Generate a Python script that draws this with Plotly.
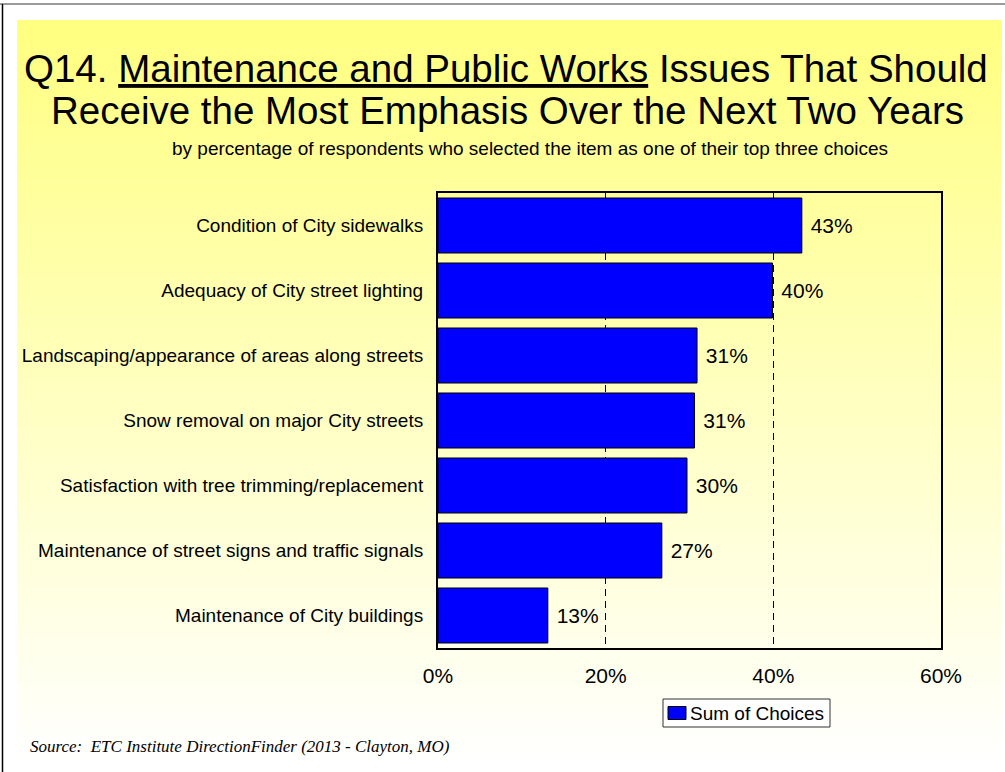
import plotly.graph_objects as go

# Survey results: share of respondents picking each item among their top three
categories = [
    "Condition of City sidewalks",
    "Adequacy of City street lighting",
    "Landscaping/appearance of areas along streets",
    "Snow removal on major City streets",
    "Satisfaction with tree trimming/replacement",
    "Maintenance of street signs and traffic signals",
    "Maintenance of City buildings",
]
sum_of_choices = [43.4, 39.9, 30.9, 30.6, 29.7, 26.7, 13.1]

tick_vals = [0, 20, 40, 60]
tick_labels = ["0%", "20%", "40%", "60%"]

series_name = "Sum of Choices"
title_line1 = ('Q14. <span style="text-decoration:underline">Maintenance and Public Works</span>'
               ' Issues That Should')
title_line2 = "Receive the Most Emphasis Over the Next Two Years"
subtitle = "by percentage of respondents who selected the item as one of their top three choices"
source_note = "Source:  ETC Institute DirectionFinder (2013 - Clayton, MO)"

# ---- page geometry (pixels) ----
W, H = 1005, 772
L, R, T, B = 438, 64, 193, 124
PW, PH = W - L - R, H - T - B

SANS = "Arial, Liberation Sans, sans-serif"
SERIF = "Times New Roman, Liberation Serif, serif"
BLUE = "#0000FF"


def px(x):
    return (x - L) / PW


def py(y):
    return (H - B - y) / PH


shapes = []

# soft yellow panel fading to white toward the bottom
top_y, bot_y = 20, 766
n_strips = 128
for i in range(n_strips):
    y0 = top_y + (bot_y - top_y) * i / n_strips
    y1 = top_y + (bot_y - top_y) * (i + 1) / n_strips + 0.6
    t = i / (n_strips - 1)
    blue = int(round(128 + 127 * t))
    shapes.append(dict(type="rect", xref="paper", yref="paper", layer="below",
                       x0=px(17), x1=px(1002), y0=py(y1), y1=py(y0),
                       fillcolor=f"rgb(255,255,{blue})", line=dict(width=0)))

# frame lines along the top and left edge of the page
shapes.append(dict(type="line", xref="paper", yref="paper", x0=px(0), x1=px(W),
                   y0=py(4), y1=py(4), line=dict(color="#7a7a7a", width=1.5)))
shapes.append(dict(type="line", xref="paper", yref="paper", x0=px(2.5), x1=px(2.5),
                   y0=py(4), y1=py(H), line=dict(color="#000000", width=1.5)))

# legend box with swatch
shapes.append(dict(type="rect", xref="paper", yref="paper", x0=px(663), x1=px(830),
                   y0=py(727), y1=py(699), fillcolor="white",
                   line=dict(color="#333333", width=1)))
shapes.append(dict(type="rect", xref="paper", yref="paper", x0=px(668), x1=px(686),
                   y0=py(719.5), y1=py(706.5), fillcolor=BLUE,
                   line=dict(color="#000000", width=1)))

annotations = [
    dict(text=title_line1, x=px(506), y=py(68), xref="paper", yref="paper",
         xanchor="center", yanchor="middle", showarrow=False,
         font=dict(family=SANS, size=38.5, color="black")),
    dict(text=title_line2, x=px(507), y=py(111), xref="paper", yref="paper",
         xanchor="center", yanchor="middle", showarrow=False,
         font=dict(family=SANS, size=38.5, color="black")),
    dict(text=subtitle, x=px(530), y=py(149), xref="paper", yref="paper",
         xanchor="center", yanchor="middle", showarrow=False,
         font=dict(family=SANS, size=19, color="black")),
    dict(text=series_name, x=px(688), y=py(713), xref="paper", yref="paper",
         xanchor="left", yanchor="middle", showarrow=False,
         font=dict(family=SANS, size=19, color="black")),
    dict(text=source_note, x=px(28), y=py(746), xref="paper", yref="paper",
         xanchor="left", yanchor="middle", showarrow=False,
         font=dict(family=SERIF, size=17, color="black", style="italic")),
]

fig = go.Figure(
    go.Bar(
        x=sum_of_choices,
        y=categories,
        orientation="h",
        name=series_name,
        width=0.846,
        marker=dict(color=BLUE, line=dict(color="#000000", width=1)),
        texttemplate="\u00a0%{x:.0f}%",
        textposition="outside",
        textfont=dict(family=SANS, size=21, color="black"),
        cliponaxis=False,
        showlegend=False,
    )
)

fig.update_layout(
    width=W,
    height=H,
    margin=dict(l=L, r=R, t=T, b=B, pad=0),
    paper_bgcolor="white",
    plot_bgcolor="white",
    font=dict(family=SANS, size=19, color="black"),
    shapes=shapes,
    annotations=annotations,
    bargap=0.154,
)

fig.update_xaxes(
    range=[0, 60],
    tickvals=tick_vals,
    ticktext=tick_labels,
    showgrid=True,
    gridcolor="black",
    gridwidth=1,
    griddash="7px,5px",
    zeroline=False,
    showline=True,
    mirror=True,
    linecolor="black",
    linewidth=2,
    ticks="",
    tickfont=dict(family=SANS, size=21, color="black"),
    ticklabelstandoff=8,
)

fig.update_yaxes(
    autorange="reversed",
    showline=True,
    mirror=True,
    linecolor="black",
    linewidth=2,
    ticks="",
    showgrid=False,
    tickfont=dict(family=SANS, size=19, color="black"),
    ticklabelstandoff=9,
)

fig.write_html("out.html")
